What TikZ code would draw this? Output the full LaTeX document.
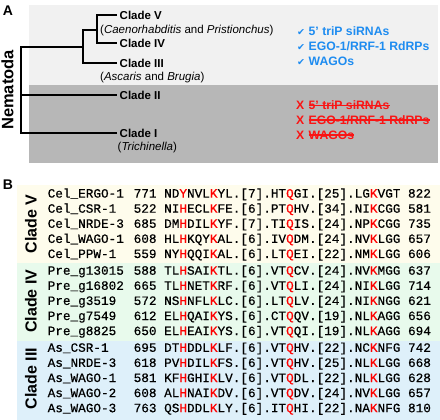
\documentclass[tikz,border=0pt]{standalone}
\usepackage{fontspec}
\setmainfont{Liberation Sans}
\newfontfamily\seqfont[FakeBold=0.5]{Liberation Mono}
\newfontfamily\symfont{DejaVu Sans}
\definecolor{bgA}{RGB}{241,241,241}
\definecolor{bgB}{RGB}{183,183,183}
\definecolor{okblue}{RGB}{30,140,240}
\definecolor{nored}{RGB}{250,20,20}
\definecolor{bgV}{RGB}{254,252,236}
\definecolor{bgIV}{RGB}{232,250,236}
\definecolor{bgIII}{RGB}{222,240,250}
\definecolor{hired}{RGB}{255,0,0}
\newcommand{\hl}[1]{\textcolor{hired}{#1}}
\begin{document}
\begin{tikzpicture}[x=1pt,y=-1pt,
  every node/.style={inner sep=0pt},
  panel/.style={font=\fontsize{14}{14}\selectfont\bfseries},
  clade/.style={font=\fontsize{11.5}{12}\selectfont\bfseries, anchor=west, inner xsep=2.5pt},
  taxa/.style={font=\fontsize{11.5}{12}\selectfont, anchor=base west},
  tree/.style={line width=1.4pt},
  yes/.style={font=\fontsize{12.2}{13}\selectfont\bfseries, text=okblue, anchor=base west},
  tick/.style={font=\symfont\fontsize{9.5}{9.5}\selectfont, text=okblue, anchor=base west},
  no/.style={font=\fontsize{12.2}{13}\selectfont\bfseries, text=nored, anchor=base west},
  strike/.style={draw=nored, line width=1.3pt},
  vert/.style={font=\fontsize{16}{16}\selectfont\bfseries, rotate=90},
  seqname/.style={font=\seqfont\fontsize{12.7}{13}\selectfont, anchor=base west},
  ]
\useasboundingbox (0,0) rectangle (440,420);
% ---------- Panel A ----------
\fill[bgA] (29,5) rectangle (438,85);
\fill[bgB] (29,85) rectangle (438,163);
\node[panel] (pA) at (8,10.5) {A};
\node[vert, font=\fontsize{16.5}{16.5}\selectfont\bfseries] (nem) at (7.5,90) {Nematoda};

\node[clade] (c5) at (117,15) {Clade V};
\node[clade] (c4) at (117,43) {Clade IV};
\node[clade] (c3) at (117,63) {Clade III};
\node[clade] (c2) at (117,95) {Clade II};
\node[clade] (c1) at (117,133) {Clade I};
\node[taxa] (t5) at (100,33.5) {(\textit{Caenorhabditis} and \textit{Pristionchus})};
\node[taxa] (t3) at (100,81) {(\textit{Ascaris} and \textit{Brugia})};
\node[taxa] (t1) at (117.5,150) {(\textit{Trichinella})};

\coordinate (j45) at (97,30);
\coordinate (j345) at (83,47);
\coordinate (root) at (21,95);
\draw[tree] (c5.west) -| (j45) |- (c4.west);
\draw[tree] (j45) -| (j345);
\draw[tree] (c3.west) -| (j345);
\draw[tree] (j345) -| (root);
\draw[tree] (c1.west) -| (root);
\draw[tree] (root) -- (c2.west);

\node[tick] (k1) at (297,35.4) {✔};
\node[tick] (k2) at (297,50.6) {✔};
\node[tick] (k3) at (297,65.8) {✔};
\node[yes] (y1) at (308.5,35.1) {5’ triP siRNAs};
\node[yes] (y2) at (308.5,50.3) {EGO-1/RRF-1 RdRPs};
\node[yes] (y3) at (308.5,65.5) {WAGOs};

\node[no] (x1) at (296,109.4) {X};
\node[no] (x2) at (296,124.2) {X};
\node[no] (x3) at (296,139.2) {X};
\node[no] (n1) at (308.5,109.4) {5’ triP siRNAs};
\node[no] (n2) at (308.5,124.2) {EGO-1/RRF-1 RdRPs};
\node[no] (n3) at (308.5,139.2) {WAGOs};
\draw[strike] ([yshift=4.2pt]n1.base west) -- ([yshift=4.2pt]n1.base east);
\draw[strike] ([yshift=4.2pt]n2.base west) -- ([yshift=4.2pt]n2.base east);
\draw[strike] ([yshift=4.2pt]n3.base west) -- ([yshift=4.2pt]n3.base east);

% ---------- Panel B ----------
\fill[bgV] (17,185) rectangle (440,262.5);
\fill[bgIV] (17,262.5) rectangle (440,341);
\fill[bgIII] (17,341) rectangle (440,420);
\node[panel] (pB) at (8,185) {B};
\node[vert] (g5) at (31,224.2) {Clade V};
\node[vert] (g4) at (31,301.3) {Clade IV};
\node[vert] (g3) at (31,378.4) {Clade III};

\node[seqname] (a1) at (47.5,197.6) {Cel\_ERGO-1};
\node[seqname] (b1) at (133.5,197.6) {771 ND\hl{Y}NVL\hl{K}YL.[7].HT\hl{Q}GI.[25].LG\hl{K}VGT 822};
\node[seqname] (a2) at (47.5,212.7) {Cel\_CSR-1};
\node[seqname] (b2) at (133.5,212.7) {522 NI\hl{H}ECL\hl{K}FE.[6].PT\hl{Q}HV.[34].NI\hl{K}CGG 581};
\node[seqname] (a3) at (47.5,227.8) {Cel\_NRDE-3};
\node[seqname] (b3) at (133.5,227.8) {685 DM\hl{H}DIL\hl{K}YF.[7].TI\hl{Q}IS.[24].NP\hl{K}CGG 735};
\node[seqname] (a4) at (47.5,242.9) {Cel\_WAGO-1};
\node[seqname] (b4) at (133.5,242.9) {608 HL\hl{H}KQY\hl{K}AL.[6].IV\hl{Q}DM.[24].NV\hl{K}LGG 657};
\node[seqname] (a5) at (47.5,258.0) {Cel\_PPW-1};
\node[seqname] (b5) at (133.5,258.0) {559 NY\hl{H}QQI\hl{K}AL.[6].LT\hl{Q}EI.[22].NM\hl{K}LGG 606};

\node[seqname] (a6) at (47.5,274.7) {Pre\_g13015};
\node[seqname] (b6) at (133.5,274.7) {588 TL\hl{H}SAI\hl{K}TL.[6].VT\hl{Q}CV.[24].NV\hl{K}MGG 637};
\node[seqname] (a7) at (47.5,289.8) {Pre\_g16802};
\node[seqname] (b7) at (133.5,289.8) {665 TL\hl{H}NET\hl{K}RF.[6].VT\hl{Q}LI.[24].NI\hl{K}LGG 714};
\node[seqname] (a8) at (47.5,304.9) {Pre\_g3519};
\node[seqname] (b8) at (133.5,304.9) {572 NS\hl{H}NFL\hl{K}LC.[6].LT\hl{Q}LV.[24].NI\hl{K}NGG 621};
\node[seqname] (a9) at (47.5,320.0) {Pre\_g7549};
\node[seqname] (b9) at (133.5,320.0) {612 EL\hl{H}QAI\hl{K}YS.[6].CT\hl{Q}QV.[19].NL\hl{K}AGG 656};
\node[seqname] (a10) at (47.5,335.1) {Pre\_g8825};
\node[seqname] (b10) at (133.5,335.1) {650 EL\hl{H}EAI\hl{K}YS.[6].VT\hl{Q}QI.[19].NL\hl{K}AGG 694};

\node[seqname] (a11) at (47.5,351.8) {As\_CSR-1};
\node[seqname] (b11) at (133.5,351.8) {695 DT\hl{H}DDL\hl{K}LF.[6].VT\hl{Q}HV.[22].NC\hl{K}NFG 742};
\node[seqname] (a12) at (47.5,366.9) {As\_NRDE-3};
\node[seqname] (b12) at (133.5,366.9) {618 PV\hl{H}DIL\hl{K}FS.[6].VT\hl{Q}HV.[25].NL\hl{K}LGG 668};
\node[seqname] (a13) at (47.5,382.0) {As\_WAGO-1};
\node[seqname] (b13) at (133.5,382.0) {581 KF\hl{H}GHI\hl{K}LV.[6].VT\hl{Q}DL.[22].NL\hl{K}LGG 628};
\node[seqname] (a14) at (47.5,397.1) {As\_WAGO-2};
\node[seqname] (b14) at (133.5,397.1) {608 AL\hl{H}NAI\hl{K}DV.[6].VT\hl{Q}DV.[24].NV\hl{K}LGG 657};
\node[seqname] (a15) at (47.5,412.2) {As\_WAGO-3};
\node[seqname] (b15) at (133.5,412.2) {763 QS\hl{H}DDL\hl{K}LY.[6].IT\hl{Q}HI.[22].NA\hl{K}NFG 810};
\end{tikzpicture}
\end{document}
